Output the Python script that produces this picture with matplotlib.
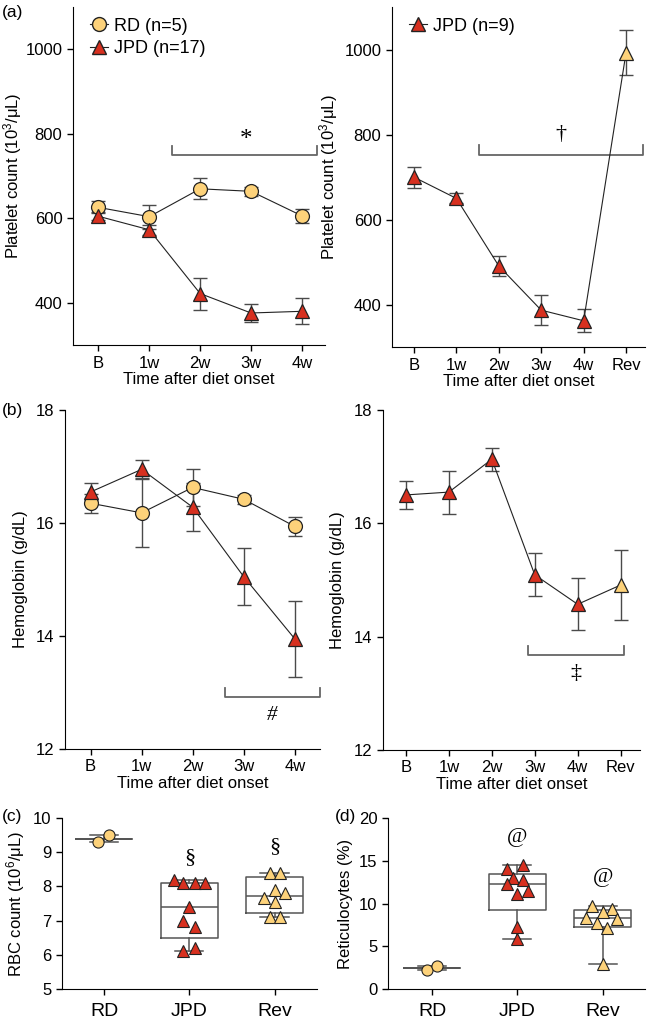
import matplotlib
matplotlib.use('Agg')
import matplotlib.pyplot as plt
import numpy as np

plt.rcParams['font.family'] = ['Liberation Sans', 'DejaVu Sans']
plt.rcParams['mathtext.fontset'] = 'custom'
plt.rcParams['mathtext.rm'] = 'Liberation Sans'
plt.rcParams['mathtext.it'] = 'Liberation Sans:italic'
plt.rcParams['font.size'] = 12

# ---- data ----
weeks = ['B', '1w', '2w', '3w', '4w']
weeks_rev = ['B', '1w', '2w', '3w', '4w', 'Rev']

plt_rd = [626, 604, 670, 664, 606]
plt_rd_err = [14, 28, 25, 10, 17]
plt_jpd = [605, 573, 422, 376, 380]
plt_jpd_err = [10, 12, 38, 21, 31]
plt_jpd9 = [700, 650, 491, 387, 362, 993]
plt_jpd9_err = [25, 12, 24, 36, 27, 53]

hb_rd = [16.35, 16.18, 16.63, 16.42, 15.94]
hb_rd_err = [0.17, 0.6, 0.32, 0.08, 0.17]
hb_jpd = [16.55, 16.95, 16.28, 15.05, 13.95]
hb_jpd_err = [0.15, 0.16, 0.42, 0.5, 0.67]
hb_jpd9 = [16.5, 16.55, 17.13, 15.09, 14.57, 14.91]
hb_jpd9_err = [0.25, 0.38, 0.2, 0.38, 0.46, 0.61]

groups = ['RD', 'JPD', 'Rev']
rbc_rd = [9.3, 9.5]
rbc_jpd = [8.2, 8.1, 8.1, 8.1, 7.4, 7.0, 6.8, 6.1, 6.2]
rbc_rev = [8.4, 8.4, 7.9, 7.65, 7.8, 7.55, 7.1, 7.1]
retic_rd = [2.2, 2.75]
retic_jpd = [14.0, 14.5, 13.0, 12.3, 12.7, 11.1, 11.5, 7.3, 5.8]
retic_rev = [9.7, 9.35, 9.05, 8.3, 8.2, 7.7, 7.1, 2.9]

# horizontal jitter of the dots (layout only)
jit_rbc = [[-0.07, 0.05],
           [-0.185, -0.07, 0.06, 0.18, 0, -0.07, 0.06, -0.07, 0.06],
           [-0.05, 0.07, 0, -0.12, 0.12, 0, -0.05, 0.07]]
jit_ret = [[-0.06, 0.055],
           [-0.12, 0.06, -0.05, -0.12, 0.06, 0, 0.12, 0, 0],
           [-0.12, 0.11, 0, -0.19, 0.17, -0.07, 0.05, 0]]

YEL = '#FDD27A'
RED = '#D7301F'
GRY = '#4a4a4a'
SERIF = ['Liberation Serif', 'DejaVu Serif']

fig = plt.figure(figsize=(6.51, 10.21), dpi=100)
axA1 = fig.add_axes([0.112, 0.662, 0.387, 0.331])
axA2 = fig.add_axes([0.602, 0.660, 0.389, 0.333])
axB1 = fig.add_axes([0.100, 0.2664, 0.392, 0.332])
axB2 = fig.add_axes([0.588, 0.2655, 0.395, 0.333])
axC = fig.add_axes([0.095, 0.0313, 0.392, 0.1675])
axD = fig.add_axes([0.596, 0.0313, 0.395, 0.1675])


def style(ax):
    for s in ['top', 'right']:
        ax.spines[s].set_visible(False)
    ax.tick_params(direction='out', length=4, width=1)


def series(ax, y, err, marker, color, ms, last_color=None):
    x = np.arange(len(y))
    ax.errorbar(x, y, yerr=err, fmt='none', ecolor=GRY, elinewidth=1,
                capsize=5, capthick=1, zorder=2)
    ax.plot(x, y, '-', color='#222222', lw=0.8, zorder=3)
    cols = [color] * len(y)
    if last_color:
        cols[-1] = last_color
    for xi, yi, c in zip(x, y, cols):
        ax.plot(xi, yi, marker, ms=ms, mfc=c, mec='#222222', mew=0.9, zorder=4)


def bracket(ax, x0, x1, y, h):
    ax.plot([x0, x0, x1, x1], [y - h, y, y, y - h], color='#666666', lw=1.3,
            clip_on=False)


# (a) left
series(axA1, plt_rd, plt_rd_err, 'o', YEL, 10)
series(axA1, plt_jpd, plt_jpd_err, '^', RED, 10.5)
axA1.set_xlim(-0.5, 4.45)
axA1.set_ylim(300, 1100)
axA1.set_yticks([400, 600, 800, 1000])
axA1.set_xticks(range(5))
axA1.set_xticklabels(weeks)
axA1.set_xlabel('Time after diet onset', labelpad=1)
axA1.set_ylabel('Platelet count (10$^3$/μL)', labelpad=1)
bracket(axA1, 1.45, 4.3, 750, -22)
axA1.text(2.9, 785, '*', family=SERIF, fontsize=18, ha='center', va='center')
h1 = axA1.plot([], [], 'o-', color='#222222', lw=0.8, ms=10, mfc=YEL, mec='#222222')[0]
h2 = axA1.plot([], [], '^-', color='#222222', lw=0.8, ms=10.5, mfc=RED, mec='#222222')[0]
axA1.legend([h1, h2], ['RD (n=5)', 'JPD (n=17)'], loc='upper left',
            bbox_to_anchor=(0.04, 0.99), frameon=False, handlelength=1.0,
            handletextpad=0.3, fontsize=13, labelspacing=0.3, borderaxespad=0)
style(axA1)

# (a) right
series(axA2, plt_jpd9, plt_jpd9_err, '^', RED, 10.5, last_color=YEL)
axA2.set_xlim(-0.52, 5.45)
axA2.set_ylim(300, 1100)
axA2.set_yticks([400, 600, 800, 1000])
axA2.set_xticks(range(6))
axA2.set_xticklabels(weeks_rev)
axA2.set_xlabel('Time after diet onset', labelpad=1)
axA2.set_ylabel('Platelet count (10$^3$/μL)', labelpad=3)
bracket(axA2, 1.53, 5.4, 753, -22)
axA2.text(3.47, 800, '†', family=SERIF, fontsize=16, ha='center', va='center')
h3 = axA2.plot([], [], '^-', color='#222222', lw=0.8, ms=10.5, mfc=RED, mec='#222222')[0]
axA2.legend([h3], ['JPD (n=9)'], loc='upper left',
            bbox_to_anchor=(0.04, 0.99), frameon=False, handlelength=1.0,
            handletextpad=0.3, fontsize=13, borderaxespad=0)
style(axA2)

# (b) left
series(axB1, hb_rd, hb_rd_err, 'o', YEL, 10)
series(axB1, hb_jpd, hb_jpd_err, '^', RED, 10.5)
axB1.set_xlim(-0.5, 4.5)
axB1.set_ylim(12, 18)
axB1.set_yticks([12, 14, 16, 18])
axB1.set_xticks(range(5))
axB1.set_xticklabels(weeks)
axB1.set_xlabel('Time after diet onset', labelpad=1)
axB1.set_ylabel('Hemoglobin (g/dL)', labelpad=6)
bracket(axB1, 2.63, 4.49, 12.92, -0.16)
axB1.text(3.55, 12.6, '#', family=SERIF, style='italic', fontsize=15,
          ha='center', va='center')
style(axB1)

# (b) right
series(axB2, hb_jpd9, hb_jpd9_err, '^', RED, 10.5, last_color=YEL)
axB2.set_xlim(-0.54, 5.45)
axB2.set_ylim(12, 18)
axB2.set_yticks([12, 14, 16, 18])
axB2.set_xticks(range(6))
axB2.set_xticklabels(weeks_rev)
axB2.set_xlabel('Time after diet onset', labelpad=1)
axB2.set_ylabel('Hemoglobin (g/dL)', labelpad=6)
bracket(axB2, 2.85, 5.07, 13.67, -0.16)
axB2.text(3.96, 13.34, '‡', family=SERIF, fontsize=16, ha='center', va='center')
style(axB2)


def box_stats(vals):
    v = np.sort(np.asarray(vals, float))
    med = np.median(v)
    if len(v) < 3:
        q1 = q3 = med
    else:
        q1, q3 = np.percentile(v, [25, 75], method='weibull')
    return dict(med=med, q1=q1, q3=q3, whislo=v.min(), whishi=v.max(),
                fliers=[], label='')


def dotbox(ax, datasets, jitters, markers, colors, ms):
    stats = [box_stats(d) for d in datasets]
    lp = dict(color='#555555', lw=1.1)
    ax.bxp(stats, positions=range(3), widths=0.66, showfliers=False,
           boxprops=lp, whiskerprops=lp, capprops=lp, medianprops=lp,
           capwidths=0.33, manage_ticks=False, zorder=2)
    for i, (d, j, m, c) in enumerate(zip(datasets, jitters, markers, colors)):
        ax.plot(np.array(j) + i, d, m, ls='none', ms=ms, mfc=c, mec='#222222',
                mew=0.8, zorder=3)


# (c)
dotbox(axC, [rbc_rd, rbc_jpd, rbc_rev], jit_rbc, ['o', '^', '^'],
       [YEL, RED, YEL], 8)
axC.set_xlim(-0.5, 2.5)
axC.set_ylim(5, 10)
axC.set_yticks(range(5, 11))
axC.set_xticks(range(3))
axC.set_xticklabels(groups, fontsize=14)
axC.set_ylabel('RBC count (10$^6$/μL)', labelpad=4)
axC.text(1, 8.84, '§', family=SERIF, fontsize=16, ha='center', va='center')
axC.text(2, 9.17, '§', family=SERIF, fontsize=16, ha='center', va='center')
style(axC)
axC.tick_params(axis='x', pad=6)

# (d)
dotbox(axD, [retic_rd, retic_jpd, retic_rev], jit_ret, ['o', '^', '^'],
       [YEL, RED, YEL], 8)
axD.set_xlim(-0.52, 2.5)
axD.set_ylim(0, 20)
axD.set_yticks([0, 5, 10, 15, 20])
axD.set_xticks(range(3))
axD.set_xticklabels(groups, fontsize=14)
axD.set_ylabel('Reticulocytes (%)', labelpad=4)
axD.text(1, 17.7, '@', family=SERIF, fontsize=16, ha='center', va='center')
axD.text(2, 13.0, '@', family=SERIF, fontsize=16, ha='center', va='center')
style(axD)
axD.tick_params(axis='x', pad=6)

# panel letters
fig.text(0.003, 0.988, '(a)', fontsize=12.5, va='center')
fig.text(0.003, 0.598, '(b)', fontsize=12.5, va='center')
fig.text(0.003, 0.200, '(c)', fontsize=12.5, va='center')
fig.text(0.515, 0.200, '(d)', fontsize=12.5, va='center')

fig.savefig('out.png', dpi=100)
